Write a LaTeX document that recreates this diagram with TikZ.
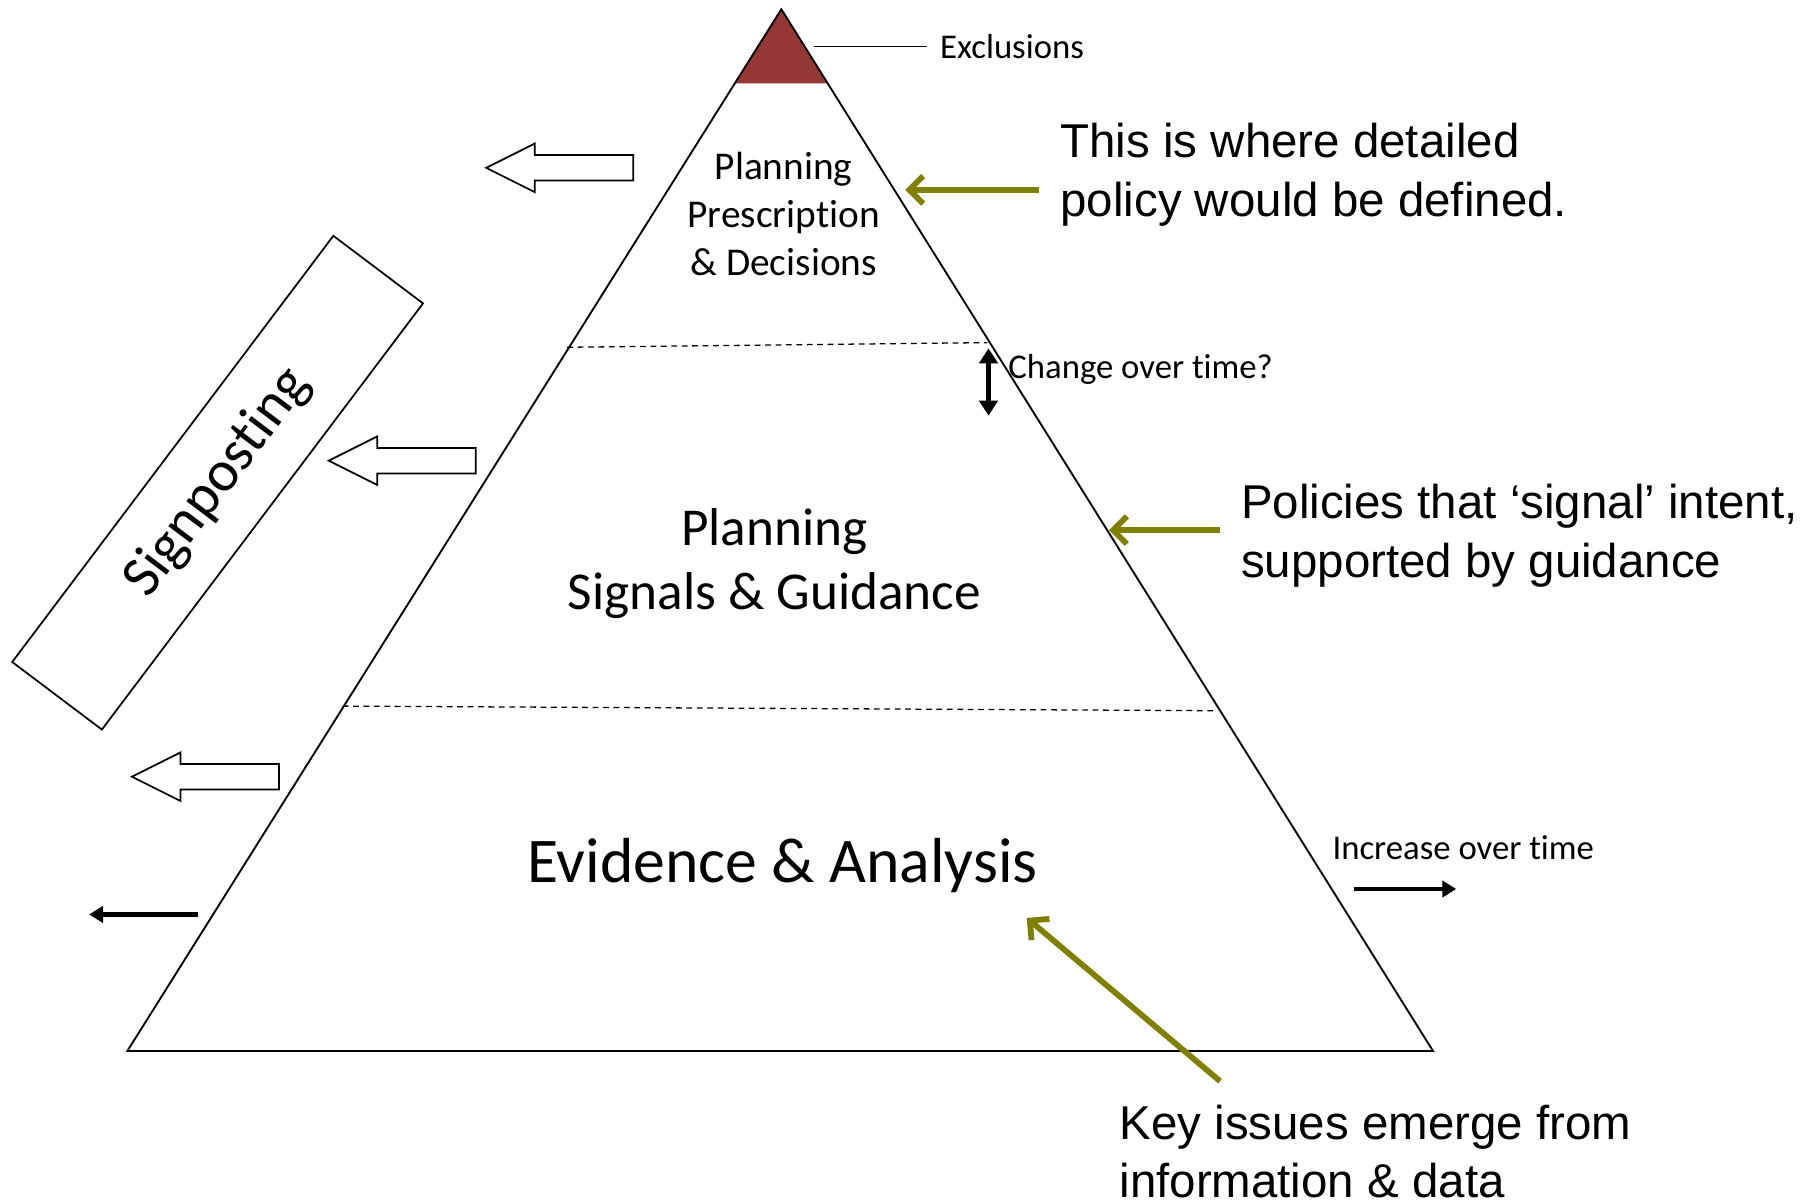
\documentclass[tikz,border=0pt]{standalone}
\usepackage{fontspec}
\setmainfont{Carlito}[Ligatures=NoCommon]
\newfontfamily\arialf{Liberation Sans}
\usetikzlibrary{arrows.meta}
\definecolor{exred}{RGB}{149,55,53}
\definecolor{olivearr}{RGB}{128,128,0}
\begin{document}
\begin{tikzpicture}[x=1pt,y=-1pt,
  pyr/.style={line width=1.6pt, line join=miter},
  layerline/.style={line width=1.1pt, dash pattern=on 5pt off 4pt},
  calib/.style={inner sep=0pt, text=black},
  annot/.style={inner sep=0pt, anchor=west, align=left, font=\arialf\fontsize{41}{50.5}\selectfont},
  smalllab/.style={inner sep=0pt, anchor=west, font=\fontsize{30}{36}\selectfont},
  olivearrow/.style={draw=olivearr, line width=5pt, -{Straight Barb[length=12pt,width=24pt,line width=5pt]}},
  blkarrow/.style={line width=3.8pt, -{Triangle[length=12pt,width=14pt]}},
  dblarrow/.style={line width=5pt, {Triangle[length=13pt,width=16pt]}-{Triangle[length=13pt,width=16pt]}},
  hollowarrow/.pic={\draw[line width=1.5pt, fill=white, line join=miter] (0,0) -- (42,-21) -- (42,-11) -- (127,-11) -- (127,11) -- (42,11) -- (42,21) -- cycle;}
]
\useasboundingbox (0,0) rectangle (1568,1036);
% pyramid
\coordinate (apex) at (675,8);
\coordinate (bl) at (110,908);
\coordinate (br) at (1238,908);
\fill[exred] (apex) -- (635.5,72) -- (714.5,72) -- cycle;
\draw[pyr] (apex) -- (bl) -- (br) -- cycle;
% layer dividers
\coordinate (d1l) at (490,300);
\coordinate (d1r) at (853,296);
\coordinate (d2l) at (296,610);
\coordinate (d2r) at (1052,614);
\draw[layerline] (d1l) -- (d1r);
\draw[layerline] (d2l) -- (d2r);
% layer texts
\node[calib, align=center, font=\fontsize{34}{41.5}\selectfont] (top) at (677,185) {Planning\\Prescription\\\& Decisions};
\node[calib, align=center, font=\fontsize{46}{55}\selectfont] (mid) at (669,487) {Planning\\Signals \& Guidance};
\node[calib, font=\fontsize{55}{66}\selectfont] (bot) at (676,748) {Evidence \& Analysis};
% exclusions
\node[smalllab] (excl) at (812,40) {Exclusions};
\coordinate (exs) at (703,40);
\draw[line width=1.3pt] (exs) -- ([xshift=-11pt]excl.west);
% change over time
\node[smalllab] (chg) at (871,319) {Change over time?};
\coordinate (dbt) at (854,301);
\coordinate (dbb) at (854,359);
\draw[dblarrow] (dbb) -- (dbt);
% increase over time
\node[smalllab] (inc) at (1151,732) {Increase over time};
\coordinate (ia1) at (1170,768);
\coordinate (ia2) at (1258,768);
\draw[blkarrow] (ia1) -- (ia2);
% left thin arrow
\coordinate (la1) at (171,790);
\coordinate (la2) at (77,790);
\draw[blkarrow] (la1) -- (la2);
% hollow block arrows
\pic at (420,145) {hollowarrow};
\pic at (284,398) {hollowarrow};
\pic at (114,671) {hollowarrow};
% signposting box
\node[draw, line width=1.5pt, rotate=53, minimum width=461pt, minimum height=97pt, inner sep=0pt, font=\fontsize{50}{60}\selectfont] (sign) at (188,417) {\raisebox{-2pt}{Signposting}};
% annotations
\node[annot] (ann1) at (916,151) {This is where detailed\\policy would be defined.};
\node[annot] (ann2) at (1072,463) {Policies that ‘signal’ intent,\\supported by guidance};
\node[annot] (ann3) at (967,995) {Key issues emerge from\\information \& data};
\coordinate (o1s) at (898,164);
\coordinate (o1e) at (782,164);
\coordinate (o2s) at (1054,458);
\coordinate (o2e) at (958,458);
\coordinate (o3s) at (1054,934);
\coordinate (o3e) at (887,793);
\draw[olivearrow] (o1s) -- (o1e);
\draw[olivearrow] (o2s) -- (o2e);
\draw[olivearrow] (o3s) -- (o3e);
\end{tikzpicture}
\end{document}
